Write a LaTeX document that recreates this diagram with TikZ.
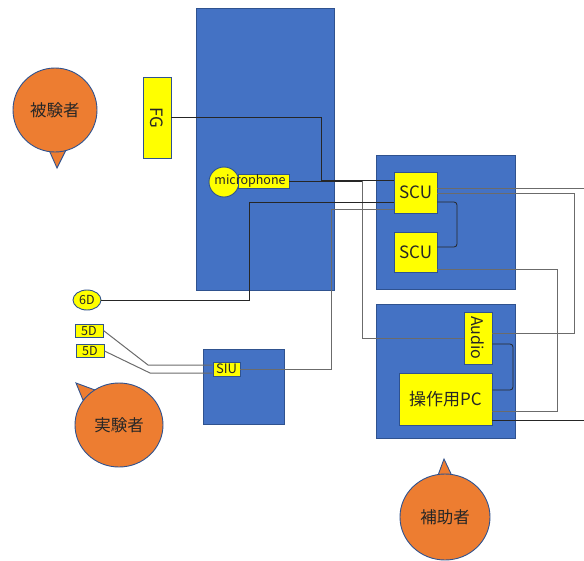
\documentclass[tikz,border=0pt]{standalone}
\usepackage{fontspec}
\setmainfont{Noto Sans CJK JP}
\usepackage{xcolor}
\usetikzlibrary{positioning, calc, shapes.geometric}
\definecolor{mblue}{HTML}{4472C4}
\definecolor{medge}{HTML}{2F528F}
\definecolor{myellow}{HTML}{FFFF00}
\definecolor{morange}{HTML}{ED7D31}
\definecolor{mtext}{HTML}{262626}
\tikzset{
  bluebox/.style={draw=medge, fill=mblue, line width=0.9pt, inner sep=0pt},
  ybox/.style={draw=medge, fill=myellow, line width=0.9pt, inner sep=0pt,
               text=mtext, font=\fontsize{17}{19}\selectfont},
  person/.style={draw=medge, fill=morange, line width=0.9pt},
  ptext/.style={text=mtext, font=\fontsize{16.5}{19}\selectfont},
  wire/.style={line width=0.8pt, black!85},
  gwire/.style={line width=1pt, black!58},
}

\begin{document}
\begin{tikzpicture}[x=1pt, y=-1pt]
  \useasboundingbox (0,0) rectangle (584,560);

  %% Containers
  \node[bluebox, minimum width=138pt, minimum height=282pt] (room) at (265,149) {};
  \node[bluebox, minimum width=139pt, minimum height=134pt] (scurack) at (445.5,222) {};
  \node[bluebox, minimum width=139pt, minimum height=134pt] (pcrack) at (445.5,371) {};
  \node[bluebox, minimum width=81pt, minimum height=75pt] (siurack) at (243.5,386.5) {};

  %% Devices
  \node[ybox, minimum width=28pt, minimum height=81pt] (fg) at (157,117.5) {\rotatebox{-90}{FG}};
  \node[ybox, circle, minimum size=30pt] (mic) at (224,182) {};
  \node[ybox, minimum width=51pt, minimum height=14pt] (micbox) at (263.5,181) {};
  \node[text=mtext, font=\fontsize{12.5}{14}\selectfont, inner sep=0pt] (miclabel) at (250,181) {microphone};
  \node[ybox, minimum width=43pt, minimum height=41pt] (scua) at (415.5,192.5) {SCU};
  \node[ybox, minimum width=43pt, minimum height=40pt] (scub) at (415.5,252) {SCU};
  \node[ybox, minimum width=28pt, minimum height=52pt, font=\fontsize{16}{18}\selectfont] (audio) at (478,338) {\rotatebox{-90}{Audio}};
  \node[ybox, minimum width=93pt, minimum height=52pt] (pc) at (445.5,399) {操作用PC};
  \node[ybox, minimum width=27pt, minimum height=14pt, font=\fontsize{13}{14}\selectfont] (siu) at (226.5,369) {SIU};
  \node[ybox, ellipse, minimum width=28pt, minimum height=20pt, font=\fontsize{12.5}{14}\selectfont] (six) at (87,300) {6D};
  \node[ybox, minimum width=28pt, minimum height=13pt, font=\fontsize{12.5}{14}\selectfont] (fivea) at (89,330.5) {5D};
  \node[ybox, minimum width=28pt, minimum height=13pt, font=\fontsize{12.5}{14}\selectfont] (fiveb) at (90,351) {5D};

  %% Free ends at the right edge
  \coordinate (outa) at (584,188);
  \coordinate (outb) at (584,420);

  %% Wiring
  \draw[wire] (fg.east) -| (321,180) -- ([yshift=12.5pt]scua.west);
  \draw[wire] (micbox.east) -- (362,181);
  \draw[gwire] (362,181) |- (audio.west);
  \draw[wire] (six.east) -| (249,202) -- ([yshift=-9.5pt]scua.west);
  \draw[gwire] (siu.east) -| (331,209) -- ([yshift=-16.5pt]scua.west);
  \draw[gwire] (fivea.east) -- (148,365) -- ([yshift=4pt]siu.west);
  \draw[gwire] (fiveb.east) -- (150,373) -- ([yshift=-4pt]siu.west);
  \draw[gwire] ([yshift=4.5pt]scua.east) -- (outa);
  \draw[gwire] ([yshift=-0.5pt]scua.east) -| (574,333) -- ([yshift=5pt]audio.east);
  \draw[wire, rounded corners=3pt] ([yshift=-9.5pt]scua.east) -- (457,202) |- ([yshift=5pt]scub.east);
  \draw[gwire] ([yshift=-17pt]scub.east) -| (557,411) -- ([yshift=-12pt]pc.east);
  \draw[wire, rounded corners=3pt] ([yshift=-6pt]audio.east) -- (513,344) |- ([yshift=9pt]pc.east);
  \draw[wire] ([yshift=-21pt]pc.east) -- (outb);

  %% People (callouts)
  \filldraw[person] (49,150) -- (57,168) -- (66,150) -- cycle;
  \node[person, circle, minimum size=84pt, ptext] (subject) at (55,110) {被験者};

  \filldraw[person] (83,400) -- (76,383) -- (95,390) -- cycle;
  \node[person, ellipse, minimum width=88pt, minimum height=84pt, ptext] (experimenter) at (119,425) {実験者};

  \filldraw[person] (437,478) -- (444,459) -- (453,478) -- cycle;
  \node[person, ellipse, minimum width=90pt, minimum height=86pt, ptext] (assistant) at (445,517) {補助者};

\end{tikzpicture}
\end{document}
